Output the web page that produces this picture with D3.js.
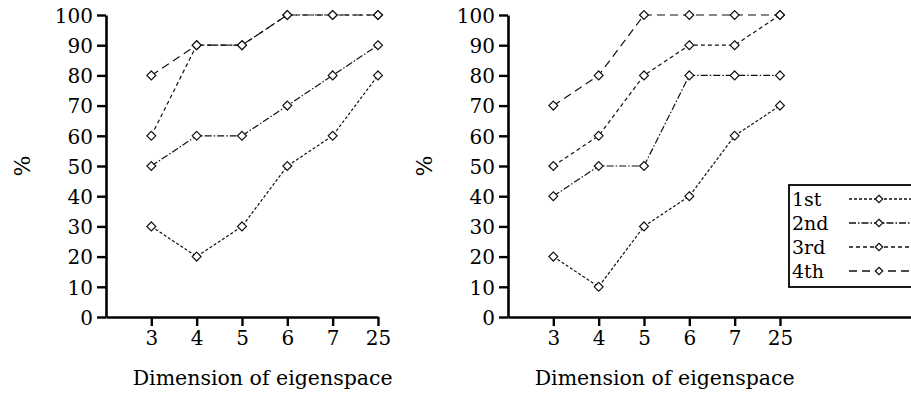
<!DOCTYPE html>
<html>
<head>
<meta charset="utf-8">
<script src="https://cdn.jsdelivr.net/npm/d3@7"></script>
<style>
  body { margin: 0; background: #fff; }
  svg text { font-family: "DejaVu Serif", serif; fill: #000; }
</style>
</head>
<body>
<svg id="chart" width="911" height="396"></svg>
<script>
// categories and values
const dims = ["3", "4", "5", "6", "7", "25"];
const yTicks = [0, 10, 20, 30, 40, 50, 60, 70, 80, 90, 100];
const legendLabels = ["1st", "2nd", "3rd", "4th"];

const left1st = [30, 20, 30, 50, 60, 80];
const left2nd = [50, 60, 60, 70, 80, 90];
const left3rd = [60, 90, 90, 100, 100, 100];
const left4th = [80, 90, 90, 100, 100, 100];

const right1st = [20, 10, 30, 40, 60, 70];
const right2nd = [40, 50, 50, 80, 80, 80];
const right3rd = [50, 60, 80, 90, 90, 100];
const right4th = [70, 80, 100, 100, 100, 100];

const dashes = ["3,2", "7,2,1.5,2", "4,3", "8,5"];

const svg = d3.select('#chart');
const diamond = d3.symbol().type(d3.symbolDiamond2).size(50);

function drawPanel(x0, maxIndex, series, showLegend) {
  const step = 45.33;
  const xScale = d3.scaleLinear().domain([0, maxIndex]).range([x0, x0 + maxIndex * step]);
  const yScale = d3.scaleLinear().domain([0, 100]).range([317, 15]);

  const g = svg.append('g');

  // lines first, markers over them
  series.forEach((vals, si) => {
    const pts = vals.map((v, i) => [xScale(i + 1), yScale(v)]);
    g.append('path')
      .attr('d', d3.line()(pts))
      .style('fill', 'none')
      .style('stroke', '#111')
      .style('stroke-width', '1.2px')
      .style('stroke-dasharray', dashes[si]);
    g.selectAll(null)
      .data(pts)
      .enter()
      .append('path')
      .attr('d', diamond)
      .attr('transform', d => `translate(${d[0]},${d[1]})`)
      .style('fill', '#fff')
      .style('stroke', '#111')
      .style('stroke-width', '1.2px');
  });

  const yAxis = d3.axisLeft(yScale)
    .tickValues(yTicks)
    .tickSize(9)
    .tickSizeOuter(0)
    .tickPadding(4);
  const ya = g.append('g')
    .attr('transform', `translate(${x0},0)`)
    .call(yAxis);
  ya.selectAll('text').style('font-size', '20px').attr('dy', '0.36em');

  const xAxis = d3.axisBottom(xScale)
    .tickValues(d3.range(1, dims.length + 1))
    .tickFormat(i => dims[i - 1])
    .tickSize(9)
    .tickSizeOuter(0)
    .tickPadding(5);
  const xa = g.append('g')
    .attr('transform', 'translate(0,317)')
    .call(xAxis);
  xa.selectAll('text').style('font-size', '20px');

  [ya, xa].forEach(a => {
    a.select('.domain').style('stroke', '#000').style('stroke-width', '2.6px');
    a.selectAll('.tick line').style('stroke', '#000').style('stroke-width', '2.4px');
  });

  g.append('text')
    .attr('x', xScale(3.5) - 2)
    .attr('y', 385)
    .attr('text-anchor', 'middle')
    .style('font-size', '20.5px')
    .text('Dimension of eigenspace');

  g.append('text')
    .attr('transform', `translate(${x0 - 84},166) rotate(-90)`)
    .attr('text-anchor', 'middle')
    .attr('dy', '0.35em')
    .style('font-size', '22px')
    .text('%');

  if (showLegend) {
    const lg = g.append('g').attr('transform', 'translate(789,185)');
    lg.append('rect')
      .attr('width', 140)
      .attr('height', 102)
      .style('fill', '#fff')
      .style('stroke', '#000')
      .style('stroke-width', '1.8px');
    legendLabels.forEach((lab, i) => {
      const yy = 14 + i * 24;
      lg.append('text')
        .attr('x', 3)
        .attr('y', yy)
        .attr('dy', '0.36em')
        .style('font-size', '19px')
        .text(lab);
      lg.append('line')
        .attr('x1', 60).attr('x2', 124)
        .attr('y1', yy).attr('y2', yy)
        .style('stroke', '#111')
        .style('stroke-width', '1.5px')
        .style('stroke-dasharray', dashes[i]);
      lg.append('path')
        .attr('d', d3.symbol().type(d3.symbolDiamond2).size(36))
        .attr('transform', `translate(90,${yy})`)
        .style('fill', '#fff')
        .style('stroke', '#111')
        .style('stroke-width', '1.2px');
    });
  }
}

drawPanel(106, 6, [left1st, left2nd, left3rd, left4th], false);
drawPanel(508, 9, [right1st, right2nd, right3rd, right4th], true);
</script>
</body>
</html>
